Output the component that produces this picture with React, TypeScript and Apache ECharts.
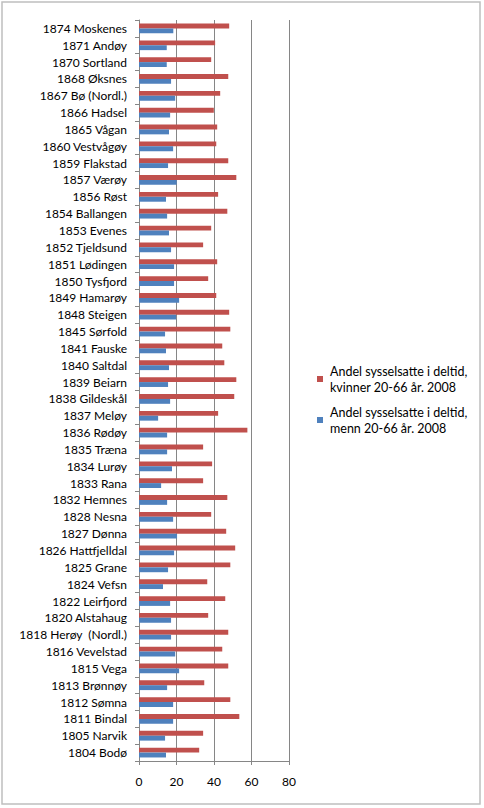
import React, { useEffect, useRef } from "react";
import * as echarts from "echarts";

const categories = [
  "1874 Moskenes", "1871 Andøy", "1870 Sortland", "1868 Øksnes", "1867 Bø (Nordl.)",
  "1866 Hadsel", "1865 Vågan", "1860 Vestvågøy", "1859 Flakstad", "1857 Værøy",
  "1856 Røst", "1854 Ballangen", "1853 Evenes", "1852 Tjeldsund", "1851 Lødingen",
  "1850 Tysfjord", "1849 Hamarøy", "1848 Steigen", "1845 Sørfold", "1841 Fauske",
  "1840 Saltdal", "1839 Beiarn", "1838 Gildeskål", "1837 Meløy", "1836 Rødøy",
  "1835 Træna", "1834 Lurøy", "1833 Rana", "1832 Hemnes", "1828 Nesna",
  "1827 Dønna", "1826 Hattfjelldal", "1825 Grane", "1824 Vefsn", "1822 Leirfjord",
  "1820 Alstahaug", "1818 Herøy  (Nordl.)", "1816 Vevelstad", "1815 Vega", "1813 Brønnøy",
  "1812 Sømna", "1811 Bindal", "1805 Narvik", "1804 Bodø",
];

const kvinner = [
  48.1, 40.6, 38.5, 47.6, 43.3, 39.9, 41.7, 41.2, 47.6, 51.9,
  42.2, 47.1, 38.5, 34.2, 41.7, 36.9, 41.2, 48.1, 48.7, 44.4,
  45.5, 51.9, 50.8, 42.2, 57.8, 34.2, 39.0, 34.2, 47.1, 38.5,
  46.5, 51.3, 48.7, 36.4, 46.0, 36.9, 47.6, 44.4, 47.6, 34.8,
  48.7, 53.5, 34.2, 32.1,
];

const menn = [
  18.3, 14.8, 14.8, 17.1, 19.3, 16.6, 16.0, 18.2, 15.5, 20.1,
  14.4, 15.0, 16.0, 17.1, 18.7, 18.7, 21.4, 19.8, 13.9, 14.4,
  16.0, 15.5, 16.6, 10.2, 15.0, 15.0, 17.6, 11.8, 15.0, 18.2,
  20.3, 18.7, 15.5, 12.8, 16.6, 17.1, 17.1, 19.3, 21.4, 15.0,
  18.2, 18.2, 13.9, 14.4,
];

const xTicks = { min: 0, max: 80, interval: 20 };

const nameK = "Andel sysselsatte i deltid, kvinner 20-66 år. 2008";
const nameM = "Andel sysselsatte i deltid, menn 20-66 år. 2008";

const FONT = "Lato";

export default function App() {
  const ref = useRef<HTMLDivElement>(null);
  useEffect(() => {
    if (!ref.current) return;
    const chart = echarts.init(ref.current, null, { renderer: "svg" });
    const legendCommon = {
      orient: "vertical" as const,
      left: 317,
      padding: 0,
      itemWidth: 6,
      itemHeight: 6,
      itemGap: 0,
      icon: "rect",
      formatter: (n: string) => n.replace(", ", ",\n"),
      textStyle: {
        fontFamily: FONT,
        fontSize: 12.5,
        color: "#000",
        lineHeight: 16,
        padding: [24, 0, 0, 2],
      },
    };
    chart.setOption({
      animation: false,
      backgroundColor: "#fff",
      textStyle: { fontFamily: FONT },
      grid: { left: 139, right: 195, top: 20, bottom: 47, containLabel: false },
      legend: [
        { ...legendCommon, top: 351, data: [nameK] },
        { ...legendCommon, top: 392, data: [nameM] },
      ],
      xAxis: {
        type: "value",
        min: xTicks.min,
        max: xTicks.max,
        interval: xTicks.interval,
        axisLine: { show: true, lineStyle: { color: "#868686", width: 1 } },
        axisTick: { show: true, length: 4, lineStyle: { color: "#868686" } },
        axisLabel: { fontFamily: FONT, fontSize: 12, color: "#000", margin: 14 },
        splitLine: { show: true, lineStyle: { color: "#868686", width: 1 } },
      },
      yAxis: {
        type: "category",
        data: categories,
        inverse: true,
        axisLine: { show: true, lineStyle: { color: "#868686", width: 1 } },
        axisTick: { show: true, length: 4, lineStyle: { color: "#868686" } },
        axisLabel: { fontFamily: FONT, fontSize: 12, color: "#000", margin: 12 },
        splitLine: { show: false },
      },
      series: [
        {
          name: nameK,
          type: "bar",
          data: kvinner,
          itemStyle: { color: "#C0504D" },
          barGap: "0%",
          barCategoryGap: "42%",
        },
        {
          name: nameM,
          type: "bar",
          data: menn,
          itemStyle: { color: "#4F81BD" },
          barGap: "0%",
          barCategoryGap: "42%",
        },
      ],
      graphic: [
        {
          type: "rect",
          shape: { x: 2, y: 2, width: 478, height: 802 },
          style: { fill: "none", stroke: "#BFBFBF", lineWidth: 1.5 },
          silent: true,
        },
      ],
    });
    return () => chart.dispose();
  }, []);
  return (
    <div
      ref={ref}
      style={{ position: "fixed", left: 0, top: 0, width: 484, height: 808 }}
    />
  );
}
